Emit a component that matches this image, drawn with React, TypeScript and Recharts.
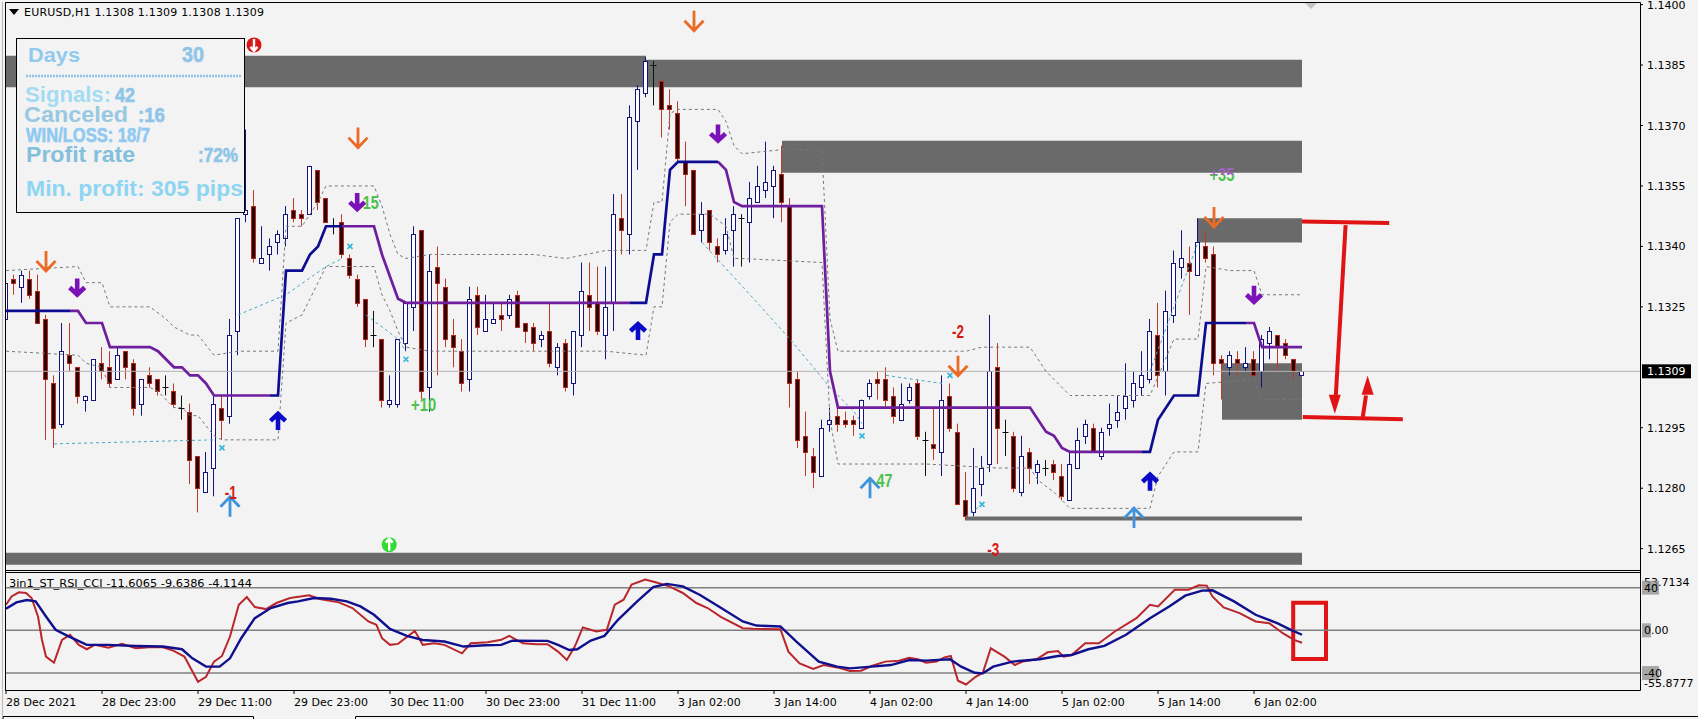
import {
  ComposedChart,
  Bar,
  Line,
  XAxis,
  YAxis,
  ReferenceArea,
  ReferenceDot,
  ReferenceLine,
} from 'recharts'

const FONT = '"DejaVu Sans", sans-serif'
const BG = '#f3f3f3'

// open, high, low, close per H1 bar
const candles = [
  [1.1322, 1.1332, 1.1321, 1.1331], [1.1332, 1.1333, 1.1328, 1.1331], [1.133, 1.1334, 1.1326, 1.1333], [1.1332, 1.1334, 1.1327, 1.1328],
  [1.1329, 1.1333, 1.1321, 1.1321], [1.1322, 1.1323, 1.1292, 1.1307], [1.1306, 1.1308, 1.129, 1.1295], [1.1296, 1.1321, 1.1295, 1.1314],
  [1.1313, 1.1321, 1.1309, 1.1311], [1.131, 1.131, 1.1301, 1.1303], [1.1302, 1.1303, 1.1299, 1.1303], [1.1302, 1.1312, 1.1302, 1.1312],
  [1.1311, 1.1315, 1.1307, 1.1309], [1.131, 1.1314, 1.1305, 1.1306], [1.1307, 1.1315, 1.1307, 1.1313], [1.1314, 1.1314, 1.1307, 1.131],
  [1.1311, 1.1312, 1.1298, 1.13], [1.1301, 1.1307, 1.1298, 1.1307], [1.1308, 1.131, 1.1305, 1.1306], [1.1307, 1.1307, 1.1303, 1.1304],
  [1.1305, 1.1308, 1.1303, 1.1305], [1.1304, 1.1306, 1.13, 1.1301], [1.13, 1.1303, 1.1297, 1.13], [1.1299, 1.1301, 1.1281, 1.1287],
  [1.1288, 1.1288, 1.1274, 1.128], [1.1279, 1.1289, 1.1279, 1.1284], [1.1285, 1.1303, 1.1278, 1.1301], [1.13, 1.1303, 1.1292, 1.1297],
  [1.1298, 1.1322, 1.1296, 1.1318], [1.1319, 1.1347, 1.1313, 1.1347], [1.1348, 1.1369, 1.1346, 1.1349], [1.135, 1.1354, 1.1336, 1.1337],
  [1.1336, 1.1345, 1.1336, 1.1337], [1.1338, 1.1342, 1.1334, 1.134], [1.1341, 1.1344, 1.1338, 1.1343], [1.1342, 1.135, 1.134, 1.1348],
  [1.1349, 1.1352, 1.1346, 1.1347], [1.1348, 1.1349, 1.1345, 1.1347], [1.1348, 1.136, 1.1348, 1.136], [1.1359, 1.1359, 1.1349, 1.1351],
  [1.1352, 1.1352, 1.1346, 1.1346], [1.1345, 1.1347, 1.1343, 1.1345], [1.1346, 1.1348, 1.1337, 1.1338], [1.1337, 1.1338, 1.1332, 1.1333],
  [1.1332, 1.1333, 1.1325, 1.1326], [1.1327, 1.1327, 1.1315, 1.1317], [1.1318, 1.1324, 1.1315, 1.1318], [1.1317, 1.1317, 1.13, 1.1302],
  [1.1301, 1.1308, 1.13, 1.1302], [1.1301, 1.1317, 1.13, 1.1317], [1.1316, 1.1326, 1.1314, 1.1326], [1.1325, 1.1345, 1.1319, 1.1343],
  [1.1344, 1.1344, 1.1302, 1.1304], [1.1305, 1.1338, 1.1299, 1.1334], [1.1335, 1.134, 1.1308, 1.1331], [1.133, 1.1332, 1.1315, 1.1317],
  [1.1318, 1.1322, 1.131, 1.1315], [1.1314, 1.1317, 1.1304, 1.1306], [1.1307, 1.133, 1.1304, 1.1327], [1.1328, 1.133, 1.1318, 1.132],
  [1.1319, 1.1328, 1.1319, 1.1322], [1.1321, 1.1326, 1.1321, 1.1322], [1.1323, 1.1326, 1.1319, 1.1322], [1.1323, 1.1328, 1.1322, 1.1327],
  [1.1328, 1.1329, 1.132, 1.132], [1.1321, 1.1321, 1.1316, 1.1319], [1.132, 1.1321, 1.1314, 1.1316], [1.1317, 1.1319, 1.1315, 1.1318],
  [1.1319, 1.1326, 1.131, 1.1311], [1.131, 1.1316, 1.1308, 1.1315], [1.1316, 1.1317, 1.1304, 1.1305], [1.1306, 1.1319, 1.1303, 1.1319],
  [1.1318, 1.1336, 1.1315, 1.1329], [1.1328, 1.1336, 1.1319, 1.1325], [1.1326, 1.1335, 1.1318, 1.1319], [1.1318, 1.1335, 1.1312, 1.1325],
  [1.1326, 1.1353, 1.1319, 1.1348], [1.1347, 1.1353, 1.1338, 1.1344], [1.1343, 1.1375, 1.1338, 1.1372], [1.1371, 1.138, 1.1359, 1.1379],
  [1.1378, 1.1387, 1.1377, 1.1386], [1.1385, 1.1386, 1.1375, 1.1385], [1.1381, 1.1381, 1.1367, 1.1374], [1.1375, 1.1379, 1.1369, 1.1374],
  [1.1373, 1.1376, 1.1361, 1.1362], [1.1361, 1.1366, 1.135, 1.1358], [1.1359, 1.1359, 1.1343, 1.1343], [1.1344, 1.1351, 1.1341, 1.1348],
  [1.1349, 1.1349, 1.1339, 1.1341], [1.134, 1.1342, 1.1336, 1.1338], [1.1339, 1.1347, 1.1338, 1.1343], [1.1344, 1.135, 1.1335, 1.1348],
  [1.1347, 1.1348, 1.1335, 1.1347], [1.1346, 1.1356, 1.1336, 1.1352], [1.1351, 1.136, 1.1351, 1.1355], [1.1354, 1.1366, 1.1352, 1.1356],
  [1.1355, 1.136, 1.1347, 1.1359], [1.1358, 1.1365, 1.1346, 1.1351], [1.135, 1.1352, 1.13, 1.1306], [1.1307, 1.1309, 1.129, 1.1292],
  [1.1293, 1.1299, 1.1283, 1.1289], [1.1288, 1.129, 1.128, 1.1284], [1.1283, 1.1297, 1.1283, 1.1295], [1.1296, 1.13, 1.1294, 1.1297],
  [1.1298, 1.13, 1.1294, 1.1296], [1.1297, 1.1299, 1.1295, 1.1296], [1.1297, 1.1298, 1.1293, 1.1296], [1.1295, 1.1302, 1.1295, 1.1302],
  [1.1303, 1.1307, 1.1302, 1.1306], [1.1307, 1.1309, 1.1302, 1.1306], [1.1307, 1.131, 1.13, 1.1302], [1.1303, 1.1305, 1.1296, 1.1298],
  [1.1297, 1.1306, 1.1297, 1.1301], [1.1302, 1.1306, 1.1301, 1.1305], [1.1306, 1.1307, 1.1292, 1.1293], [1.1292, 1.1294, 1.1283, 1.1292],
  [1.1291, 1.13, 1.1287, 1.129], [1.1289, 1.1308, 1.1283, 1.1302], [1.1303, 1.1306, 1.1294, 1.1295], [1.1294, 1.1296, 1.1276, 1.1276],
  [1.1277, 1.1284, 1.1272, 1.1273], [1.1274, 1.129, 1.1273, 1.128], [1.1281, 1.1288, 1.1278, 1.1285], [1.1286, 1.1323, 1.1284, 1.1309],
  [1.131, 1.1316, 1.1286, 1.1295], [1.1294, 1.1297, 1.1288, 1.1294], [1.1293, 1.1294, 1.1279, 1.128], [1.1279, 1.1293, 1.1278, 1.1288],
  [1.1289, 1.129, 1.1281, 1.1285], [1.1284, 1.1287, 1.1281, 1.1286], [1.1285, 1.1287, 1.1283, 1.1285], [1.1286, 1.1287, 1.1282, 1.1284],
  [1.1283, 1.1286, 1.1277, 1.1278], [1.1277, 1.1289, 1.1277, 1.1286], [1.1285, 1.1295, 1.1285, 1.1292], [1.1293, 1.1297, 1.1291, 1.1296],
  [1.1295, 1.1296, 1.1289, 1.1289], [1.1288, 1.1295, 1.1287, 1.1294], [1.1295, 1.1301, 1.1293, 1.1296], [1.1297, 1.1303, 1.1295, 1.1299],
  [1.13, 1.1311, 1.1297, 1.1303], [1.1302, 1.1309, 1.13, 1.1306], [1.1305, 1.1314, 1.1303, 1.1308], [1.1307, 1.1322, 1.1306, 1.1319],
  [1.1318, 1.1326, 1.1305, 1.1308], [1.1309, 1.1329, 1.1303, 1.1324], [1.1323, 1.1339, 1.1321, 1.1336], [1.1335, 1.1344, 1.1332, 1.1337],
  [1.1336, 1.134, 1.1323, 1.1334], [1.1333, 1.1347, 1.1333, 1.1341], [1.134, 1.1344, 1.1336, 1.1337], [1.1338, 1.134, 1.1308, 1.1311],
  [1.1312, 1.1313, 1.1302, 1.1311], [1.131, 1.1314, 1.1308, 1.1313], [1.1312, 1.1314, 1.1308, 1.1311], [1.131, 1.1315, 1.1309, 1.1311],
  [1.1312, 1.1314, 1.1308, 1.1308], [1.1309, 1.1318, 1.1305, 1.1317], [1.1316, 1.132, 1.1312, 1.1319], [1.1318, 1.1318, 1.1309, 1.1315],
  [1.1316, 1.1317, 1.1312, 1.1313], [1.1312, 1.1312, 1.1307, 1.1309], [1.1308, 1.1309, 1.1308, 1.1309],
]

const priceTicks = [1.14, 1.1385, 1.137, 1.1355, 1.134, 1.1325, 1.1309, 1.1295, 1.128, 1.1265]
const lastPrice = 1.1309
const barTicks = [0, 12, 24, 36, 48, 60, 72, 84, 96, 108, 120, 132, 144, 156]
const barTickLabels = [
  '28 Dec 2021', '28 Dec 23:00', '29 Dec 11:00', '29 Dec 23:00', '30 Dec 11:00', '30 Dec 23:00', '31 Dec 11:00',
  '3 Jan 02:00', '3 Jan 14:00', '4 Jan 02:00', '4 Jan 14:00', '5 Jan 02:00', '5 Jan 14:00', '6 Jan 02:00',
]

// supply / demand boxes: bar from, bar to, price low, price high
const zones = [
  [0, 80, 1.13795, 1.13873],
  [80, 162, 1.13795, 1.13863],
  [97, 162, 1.13583, 1.13662],
  [149, 162, 1.1341, 1.1347],
  [152, 162, 1.1297, 1.1311],
  [120, 162, 1.1272, 1.1273],
  [0, 162, 1.1261, 1.1264],
]

const trendBlue = [
  [[0, 1.1324], [8, 1.1324]],
  [[33, 1.1303], [34, 1.1303], [35, 1.1334], [37, 1.1334], [38, 1.1338], [39, 1.134], [40, 1.1345], [42, 1.1345]],
  [[78, 1.1326], [80, 1.1326], [81, 1.1338], [82, 1.1338], [83, 1.1359], [84, 1.1361], [89, 1.1361]],
  [[142, 1.1289], [143, 1.1289], [144, 1.1297], [146, 1.1303], [149, 1.1303], [150, 1.1321], [155, 1.1321]],
]
const trendPurple = [
  [[8, 1.1324], [9, 1.1324], [10, 1.1321], [12, 1.1321], [13, 1.1315], [18, 1.1315], [19, 1.1314], [21, 1.131], [22, 1.131], [23, 1.1308], [24, 1.1308], [25, 1.1306], [26, 1.1303], [33, 1.1303]],
  [[42, 1.1345], [46, 1.1345], [47, 1.1338], [49, 1.1327], [50, 1.1326], [78, 1.1326]],
  [[89, 1.1361], [90, 1.1359], [91, 1.1351], [92, 1.135], [102, 1.135], [103, 1.1309], [104, 1.13], [128, 1.13], [130, 1.1294], [131, 1.1293], [132, 1.129], [133, 1.1289], [142, 1.1289]],
  [[155, 1.1321], [156, 1.1321], [157, 1.1315], [162, 1.1315]],
]
const channelUpper = [
  [0, 1.1334], [9, 1.1335], [10, 1.1331], [12, 1.1331], [13, 1.1325], [18, 1.1325], [20, 1.1322], [21, 1.132], [23, 1.1318], [24, 1.1318], [26, 1.1313], [29, 1.1314], [34, 1.1314],
  [35, 1.1345], [37, 1.1345], [38, 1.1348], [39, 1.1351], [40, 1.1355], [46, 1.1355], [47, 1.135], [48, 1.1343], [49, 1.1338], [50, 1.1337], [53, 1.1338], [66, 1.1338], [70, 1.1337], [75, 1.1339], [80, 1.1339],
  [81, 1.1351], [82, 1.1351], [83, 1.1373], [84, 1.1374], [89, 1.1374], [90, 1.1371], [91, 1.1365], [92, 1.1363], [97, 1.1364], [102, 1.1364], [103, 1.1322], [104, 1.1314], [120, 1.1314], [122, 1.1315], [128, 1.1315],
  [130, 1.1309], [133, 1.1303], [143, 1.1303], [146, 1.1317], [149, 1.1317], [150, 1.1335], [153, 1.1334], [156, 1.1334], [157, 1.1328], [162, 1.1328],
]
const channelLower = [
  [0, 1.1314], [9, 1.1313], [10, 1.1311], [12, 1.131], [13, 1.1305], [18, 1.1305], [19, 1.1304], [21, 1.13], [22, 1.13], [23, 1.1298], [24, 1.1298], [26, 1.1293], [27, 1.1292], [34, 1.1292],
  [35, 1.1321], [37, 1.1323], [38, 1.1327], [39, 1.1331], [40, 1.1335], [46, 1.1335], [47, 1.1328], [48, 1.1324], [49, 1.1319], [50, 1.1315], [53, 1.1314], [75, 1.1314], [80, 1.1313],
  [81, 1.1325], [82, 1.1325], [83, 1.1346], [84, 1.1348], [88, 1.1348], [90, 1.1345], [91, 1.1337], [92, 1.1337], [102, 1.1336], [103, 1.1297], [104, 1.1286], [115, 1.1286], [124, 1.1285], [128, 1.1285],
  [129, 1.1282], [131, 1.1279], [133, 1.1275], [143, 1.1275], [144, 1.1283], [146, 1.1289], [149, 1.1289], [150, 1.1306], [156, 1.1307], [157, 1.1302], [162, 1.1302],
]
const cyanTraces = [
  [[6, 1.1291], [26, 1.1292]],
  [[29, 1.1323], [35, 1.1328], [40, 1.1335], [42, 1.1337]],
  [[45, 1.1323], [49, 1.1317], [50, 1.1314]],
  [[87, 1.1341], [93, 1.1328], [98, 1.1317], [103, 1.1305], [106, 1.1299], [107, 1.1296]],
  [[110, 1.1308], [117, 1.1306]],
  [[120, 1.1273], [122, 1.1276]],
  [[143, 1.1309], [149, 1.1341]],
]
const cyanCrosses = [[27, 1.129], [43, 1.134], [50, 1.1312], [107, 1.1293], [118, 1.1308], [122, 1.1276]]

const orangeArrows = [[5, 1.13364], [44, 1.1367], [86, 1.1396], [119, 1.13104], [151, 1.13473]]
const purpleArrows = [[8.9, 1.13298], [43.9, 1.1351], [89, 1.1368], [156, 1.1328]]
const blueArrows = [[34, 1.12967], [79, 1.1319], [143, 1.12816]]
const skyArrows = [[28, 1.12754], [108, 1.128], [141, 1.12726]]
const resultLabels: [number, number, string, string][] = [
  [28.1, 1.1279, '-1', '#d81818'],
  [52.2, 1.1301, '+10', '#4cc24c'],
  [45.6, 1.1351, '15', '#4cc24c'],
  [109.8, 1.1282, '47', '#4cc24c'],
  [119, 1.1319, '-2', '#d81818'],
  [123.4, 1.1265, '-3', '#d81818'],
  [152, 1.1358, '+35', 'url(#plus35)'],
]

// hand drawn marks on the right of the price pane
const redLevels = [
  [[162, 1.13462], [172.9, 1.13458]],
  [[162.1, 1.12977], [174.6, 1.12971]],
  [[167.45, 1.13453], [166.2, 1.1302]],
  [[169.6, 1.12977], [170, 1.1303]],
]
const redHeads = [[166.1, 1.12985, 'down'], [170.2, 1.13079, 'up']]

const fastLine = [
  [0, 24], [0.7, 31.8], [1.6, 35.6], [2.5, 35], [3.2, 30.3], [4, 13], [4.5, -9], [5, -24.6], [6, -30.3], [7, -9], [8, -4.2], [9.1, -13.6], [10.1, -17.7], [11.1, -13.6], [12.8, -16.2], [14.5, -12.7], [16.2, -16.8], [17.9, -15.8], [19.6, -15.8], [20.9, -19], [22.3, -24.6], [24, -48.2], [25, -43.5], [26, -29.3], [27, -24], [28, -5.8], [29.1, 24], [30.1, 31.2], [31.1, 21.8], [32.5, 19.9], [33.8, 25.6], [35.5, 30.3], [37.9, 32.8], [39.2, 29.3], [41.6, 26.2], [43.3, 20.9], [45.3, 8.3], [46.3, 5.2], [47, -7.4], [48, -13.6], [49, -12.7], [51.1, -0.5], [52.1, -13.6], [53.5, -12.1], [54.8, -13.6], [57, -21.5], [58.1, -12.1], [60.2, -11.1], [61.9, -8.9], [62.9, -5.2], [64.6, -12.1], [66.3, -13], [67.7, -13], [69, -19.9], [70.1, -27.8], [71.1, -15.2], [72.1, 2.7], [73.8, -1.1], [75.1, 0.5], [76.1, 24], [77.2, 28.7], [78.2, 42.8], [79.9, 47.5], [81.2, 45], [82.9, 41.2], [84.6, 35], [86.3, 25.6], [87.7, 20.9], [89.4, 12.4], [92.1, 2], [93.4, 1.4], [96.8, 1.1], [97.8, -19.9], [99.2, -30.9], [100.9, -36.2], [102.2, -32.5], [103.9, -34.7], [105.5, -38],
  [106.9, -37.8], [108.2, -33.4], [109.9, -29.3], [111.6, -28.4], [112.9, -25.6], [114, -27.1], [115, -30.3], [116.3, -29.3], [117.3, -25.3], [118.1, -24], [119, -47.2], [120, -50.7], [121.2, -43.5], [122.1, -39.7], [123.1, -16.8], [124.8, -24.6], [126.1, -32.5], [127.1, -29.3], [128.8, -27.1], [130.2, -20.6], [131.5, -19.3], [132.2, -24.6], [133.2, -23.1], [134.9, -12.1], [136.6, -12.1], [138.6, -1.1], [141.3, 11.4], [143, 24], [144, 22.4], [146.1, 38.1], [147.8, 38.1], [149.1, 42.2], [150.1, 41.9], [150.8, 31.8], [152.2, 21.5], [154.2, 16.2], [156.2, 8.3], [157.9, 6.7], [159.6, -2.7], [161, -9], [162, -11.6065],
]
const slowLine = [
  [0, 20.2], [1.3, 26.2], [2.6, 28.4], [3.7, 27.1], [5, 13], [6.2, 0.5], [7.7, -5.2], [10.1, -13.6], [12.8, -13.6], [16.2, -14.6], [19.6, -15.2], [22, -17.7], [23.3, -26.2], [25, -34], [26.7, -34], [28, -26.2], [29.4, -7.4], [31.1, 11.4], [33.1, 20.9], [35.2, 25.6], [36.5, 27.1], [38.5, 30.3], [40.6, 29.6], [42.6, 27.1], [44.3, 22.4], [46, 14.6], [48, 1.4], [50.1, -5.2], [52.1, -9], [54.8, -10.5], [57.2, -15.2], [59.9, -14], [61.9, -13.6], [63.3, -9.6], [67.7, -9.9], [69, -13.6], [70.4, -18.4], [71.4, -17.7], [73.1, -9.6], [74.8, -5.2], [76.5, 9.9], [78.9, 27.1], [80.9, 40.6], [82.6, 43.5], [84.6, 41.2], [86.7, 33.4], [89.4, 20.9], [92.1, 8.3], [93.8, 4.5], [96.8, 3.6], [98.8, -10.5], [101.6, -29.3], [103.9, -34], [105.5, -35.6],
  [108.2, -34], [110.6, -32.5], [112.9, -27.8], [115, -28.4], [118, -27.1], [119.4, -34], [121.1, -39.7], [122.1, -40.3], [123.4, -34], [125.8, -29.3], [129.2, -27.1], [131.5, -24], [133.2, -23.1], [135.3, -17.7], [137.3, -14.6], [140, -4.2], [143, 11.4], [145.4, 22.4], [147.4, 32.5], [149.5, 37.2], [150.8, 37.5], [153.5, 27.1], [156.2, 14.6], [158.9, 6.7], [160.6, 0.5], [162, -4.1144],
]
const oscLevels = [40, 0, -40]
const oscTicks = [53.7134, 40, 0, -40, -55.8777]
const oscBox = [160.9, 165, -26.8, 25.9]

const tableData = candles.map(([open, high, low, close], i) => ({ i, open, high, low, close }))
const pts = (rows: number[][]) => rows.map(([i, v]) => ({ i, v }))

const X_DOMAIN: [number, number] = [0, 204.25]
const PRICE_DOMAIN: [number, number] = [1.12602, 1.14004]
const OSC_DOMAIN: [number, number] = [-55.8777, 53.7134]

function Candle({ x, y, width, height, payload }: any) {
  const { open, high, low, close } = payload
  const cx = Math.floor(x + width / 2) + 0.5
  const k = height / (high - low)
  const yOpen = y + (high - open) * k
  const yClose = y + (high - close) * k
  const top = Math.round(Math.min(yOpen, yClose)) + 0.5
  const bottom = Math.round(Math.max(yOpen, yClose)) + 0.5
  if (open === close) {
    return (
      <g stroke="#111">
        <line x1={cx} x2={cx} y1={y} y2={y + height} />
        <line x1={cx - 3} x2={cx + 3} y1={top} y2={top} />
      </g>
    )
  }
  const bull = close > open
  return (
    <g>
      <line x1={cx} x2={cx} y1={y} y2={y + height} stroke={bull ? '#14147e' : '#bb3a2c'} />
      <rect
        x={cx - 2}
        y={top}
        width={4}
        height={bottom - top}
        fill={bull ? '#ffffff' : '#2a0606'}
        stroke={bull ? '#14147e' : '#b5281e'}
      />
    </g>
  )
}

function ThinArrow({ cx, cy, up, color }: any) {
  const s = up ? -1 : 1
  return (
    <path
      d={`M${cx} ${cy - 10 * s}V${cy + 10 * s}M${cx - 9.5} ${cy + 0 * s}L${cx} ${cy + 10 * s}L${cx + 9.5} ${cy + 0 * s}`}
      fill="none"
      stroke={color}
      strokeWidth={2.8}
    />
  )
}

function ThickArrow({ cx, cy, up, color }: any) {
  const s = up ? -1 : 1
  return (
    <path
      d={`M${cx} ${cy - 9 * s}V${cy + 7 * s}M${cx - 7.5} ${cy + 0 * s}L${cx} ${cy + 7 * s}L${cx + 7.5} ${cy + 0 * s}`}
      fill="none"
      stroke={color}
      strokeWidth={4.6}
    />
  )
}

function CircleArrow({ cx, cy, up, color }: any) {
  const s = up ? -1 : 1
  return (
    <g>
      <circle cx={cx} cy={cy} r={7.5} fill={color} />
      <path
        d={`M${cx} ${cy - 6 * s}V${cy + 6 * s}M${cx - 3.5} ${cy + 2 * s}L${cx} ${cy + 6 * s}L${cx + 3.5} ${cy + 2 * s}`}
        fill="none"
        stroke="#fff"
        strokeWidth={2.4}
      />
    </g>
  )
}

function Cross({ cx, cy }: any) {
  return (
    <path
      d={`M${cx - 2.5} ${cy - 2.5}L${cx + 2.5} ${cy + 2.5}M${cx + 2.5} ${cy - 2.5}L${cx - 2.5} ${cy + 2.5}`}
      stroke="#35b5dc"
      strokeWidth={1.6}
    />
  )
}

function RedHead({ cx, cy, dir }: any) {
  const s = dir === 'down' ? -1 : 1
  return <path d={`M${cx} ${cy}L${cx - 6} ${cy + 19 * s}L${cx + 6} ${cy + 19 * s}Z`} fill="#e01414" />
}

function ResultLabel({ cx, cy, label, color }: any) {
  const digits = label.replace(/[^0-9]/g, '').length
  const w = digits * 8 + (label[0] === '+' ? 9 : label[0] === '-' ? 4 : 0)
  return (
    <text
      x={cx - w / 2}
      y={cy + 7}
      fontFamily="Liberation Sans, Arial, sans-serif"
      fontWeight={700}
      fontSize={19}
      textLength={w}
      lengthAdjust="spacingAndGlyphs"
      fill={color}
    >
      {label}
    </text>
  )
}

function PriceTick({ x, y, payload }: any) {
  const last = payload.value === lastPrice
  return (
    <g fontFamily={FONT} fontSize={11}>
      {last && <rect x={x + 2} y={y - 7} width={49} height={14} fill="#000" />}
      {!last && <line x1={x} x2={x + 3} y1={y} y2={y} stroke="#000" />}
      <text x={x + 7} y={y + 4} fill={last ? '#fff' : '#000'}>
        {payload.value.toFixed(4)}
      </text>
    </g>
  )
}

function BarTick({ x, y, payload }: any) {
  return (
    <g fontFamily={FONT} fontSize={11}>
      <line x1={x} x2={x} y1={y} y2={y + 4} stroke="#000" />
      <text x={x} y={y + 16} fill="#000" textAnchor="start">
        {barTickLabels[barTicks.indexOf(payload.value)]}
      </text>
    </g>
  )
}

function OscTick({ x, y, payload }: any) {
  const v = payload.value
  const boxed = oscLevels.includes(v)
  const txt = boxed ? (v === 0 ? '0.00' : String(v)) : v.toFixed(4)
  const dy = v > 50 ? 9 : v < -50 ? -7 : 0
  return (
    <g fontFamily={FONT} fontSize={11}>
      {boxed && <rect x={x + 2} y={y - 7} width={v === 0 ? 9 : 17} height={14} fill="#8e8e8e" fillOpacity={0.75} />}
      <text x={x + 4} y={y + dy + 4} fill="#000">
        {txt}
      </text>
    </g>
  )
}

function Overlay() {
  const sans = 'Liberation Sans, Arial, sans-serif'
  return (
    <svg width={1698} height={719} style={{ position: 'absolute', left: 0, top: 0 }}>
      {/* terminal frame */}
      <rect x={0} y={0} width={5} height={719} fill={BG} />
      <line x1={2.5} x2={2.5} y1={2} y2={716} stroke="#b8b8b8" />
      <path d="M5.5 2.5H1640.5V690.5H5.5Z" fill="none" stroke="#000" />
      <path d="M5.5 570.5H1640.5M5.5 572.5H1640.5" stroke="#000" fill="none" />
      <path d="M3 719V716.5H253.5V719M355.5 719V716.5H1698" stroke="#000" fill="none" />
      <path d="M1305 3H1317L1311 9Z" fill="#c4c4c4" />

      <path d="M9 9H19L14 15Z" fill="#000" />
      <text x={24} y={16} fontFamily={FONT} fontSize={11} textLength={240} fill="#000">
        EURUSD,H1  1.1308 1.1309 1.1308 1.1309
      </text>
      <text x={9} y={587} fontFamily={FONT} fontSize={10.5} textLength={243} lengthAdjust="spacingAndGlyphs" fill="#000">
        3in1_ST_RSI_CCI -11.6065 -9.6386 -4.1144
      </text>

      {/* stats panel */}
      <rect x={16.5} y={38.5} width={228} height={174} fill={BG} stroke="#000" />
      <g fontFamily={sans} fontWeight={700}>
        <text x={28} y={62} fontSize={21} textLength={52} lengthAdjust="spacingAndGlyphs" fill="#92c9ee">Days</text>
        <text x={182} y={62} fontSize={22} textLength={22} lengthAdjust="spacingAndGlyphs" fill="#8fc5e8" stroke="#8fc5e8" strokeWidth={0.6}>30</text>
        <line x1={26} x2={242} y1={76} y2={76} stroke="#8cc4e8" strokeWidth={2.5} strokeDasharray="2 1" />
        <text x={25} y={102} fontSize={22} textLength={86} lengthAdjust="spacingAndGlyphs" fill="#a3dcf2">Signals:</text>
        <text x={115} y={102} fontSize={21} textLength={20} lengthAdjust="spacingAndGlyphs" fill="#8fc5e8" stroke="#8fc5e8" strokeWidth={0.6}>42</text>
        <text x={24} y={122} fontSize={22} textLength={104} lengthAdjust="spacingAndGlyphs" fill="#98c8e2">Canceled</text>
        <text x={138} y={122} fontSize={21} textLength={27} lengthAdjust="spacingAndGlyphs" fill="#8fc5e8" stroke="#8fc5e8" strokeWidth={0.6}>:16</text>
        <text x={26} y={142} fontSize={21} textLength={124} lengthAdjust="spacingAndGlyphs" fill="#8fc9f2" stroke="#8fc9f2" strokeWidth={0.6}>WIN/LOSS: 18/7</text>
        <text x={26} y={162} fontSize={22} textLength={109} lengthAdjust="spacingAndGlyphs" fill="#83c0dc">Profit rate</text>
        <text x={198} y={162} fontSize={21} textLength={40} lengthAdjust="spacingAndGlyphs" fill="#8fc5e8" stroke="#8fc5e8" strokeWidth={0.6}>:72%</text>
        <text x={26} y={196} fontSize={22} textLength={217} lengthAdjust="spacingAndGlyphs" fill="#8ed5f2">Min. profit: 305 pips</text>
      </g>
    </svg>
  )
}

export default function App() {
  return (
    <div style={{ position: 'absolute', left: 0, top: 0, width: 1698, height: 719, background: BG, overflow: 'hidden' }}>
      <div style={{ position: 'absolute', left: 0, top: 0 }}>
        <ComposedChart width={1698} height={568} data={tableData} margin={{ top: 3, right: 0, bottom: 0, left: 6 }}>
          <defs>
            <linearGradient id="plus35" x1="0" y1="0" x2="0" y2="1">
              <stop offset="0.5" stopColor="#a45fc4" />
              <stop offset="0.55" stopColor="#4cc24c" />
            </linearGradient>
          </defs>
          <XAxis dataKey="i" type="number" domain={X_DOMAIN} hide allowDataOverflow />
          <YAxis
            orientation="right"
            width={58}
            domain={PRICE_DOMAIN}
            allowDataOverflow
            ticks={priceTicks}
            interval={0}
            tick={PriceTick}
            tickSize={0}
            tickMargin={0}
            axisLine={false}
            tickLine={false}
          />
          {zones.map(([x1, x2, y1, y2], k) => (
            <ReferenceArea key={k} x1={x1} x2={x2} y1={y1} y2={y2} fill="#6a6a6a" fillOpacity={1} stroke="none" />
          ))}
          <ReferenceLine y={lastPrice} stroke="#b4b4b4" />
          <Bar dataKey={(d: any) => [d.low, d.high]} barSize={5} shape={Candle} isAnimationActive={false} />
          {[channelUpper, channelLower].map((rows, k) => (
            <Line key={k} data={pts(rows)} dataKey="v" stroke="#777" strokeWidth={1} strokeDasharray="3 3" dot={false} activeDot={false} isAnimationActive={false} />
          ))}
          {cyanTraces.map((rows, k) => (
            <Line key={k} data={pts(rows)} dataKey="v" stroke="#4aa8c8" strokeWidth={1} strokeDasharray="3 3" dot={false} activeDot={false} isAnimationActive={false} />
          ))}
          {trendPurple.map((rows, k) => (
            <Line key={k} data={pts(rows)} dataKey="v" stroke="#6f1f9e" strokeWidth={2.7} dot={false} activeDot={false} isAnimationActive={false} />
          ))}
          {trendBlue.map((rows, k) => (
            <Line key={k} data={pts(rows)} dataKey="v" stroke="#0d0d92" strokeWidth={2.7} dot={false} activeDot={false} isAnimationActive={false} />
          ))}
          {redLevels.map((rows, k) => (
            <Line key={k} data={pts(rows)} dataKey="v" stroke="#e01414" strokeWidth={4} dot={false} activeDot={false} isAnimationActive={false} />
          ))}
          {redHeads.map(([i, v, dir], k) => (
            <ReferenceDot key={k} x={i as number} y={v as number} shape={(p: any) => <RedHead {...p} dir={dir} />} />
          ))}
          {orangeArrows.map(([i, v], k) => (
            <ReferenceDot key={k} x={i} y={v} shape={(p: any) => <ThinArrow {...p} color="#ea6a26" />} />
          ))}
          {skyArrows.map(([i, v], k) => (
            <ReferenceDot key={k} x={i} y={v} shape={(p: any) => <ThinArrow {...p} up color="#3f93dc" />} />
          ))}
          {purpleArrows.map(([i, v], k) => (
            <ReferenceDot key={k} x={i} y={v} shape={(p: any) => <ThickArrow {...p} color="#7a12b8" />} />
          ))}
          {blueArrows.map(([i, v], k) => (
            <ReferenceDot key={k} x={i} y={v} shape={(p: any) => <ThickArrow {...p} up color="#0a0ac8" />} />
          ))}
          <ReferenceDot x={31} y={1.139} shape={(p: any) => <CircleArrow {...p} color="#d81818" />} />
          <ReferenceDot x={47.9} y={1.1266} shape={(p: any) => <CircleArrow {...p} up color="#32dc32" />} />
          {cyanCrosses.map(([i, v], k) => (
            <ReferenceDot key={k} x={i} y={v} shape={Cross} />
          ))}
          {resultLabels.map(([i, v, label, color], k) => (
            <ReferenceDot key={k} x={i} y={v} shape={(p: any) => <ResultLabel {...p} label={label} color={color} />} />
          ))}
        </ComposedChart>
      </div>

      <div style={{ position: 'absolute', left: 0, top: 573 }}>
        <ComposedChart width={1698} height={146} margin={{ top: 0, right: 0, bottom: 0, left: 6 }}>
          <XAxis
            dataKey="i"
            type="number"
            domain={X_DOMAIN}
            allowDataOverflow
            ticks={barTicks}
            interval={0}
            height={29}
            tick={BarTick}
            tickSize={0}
            tickMargin={0}
            axisLine={false}
            tickLine={false}
          />
          <YAxis
            orientation="right"
            width={58}
            domain={OSC_DOMAIN}
            allowDataOverflow
            ticks={oscTicks}
            interval={0}
            tick={OscTick}
            tickSize={0}
            tickMargin={0}
            axisLine={false}
            tickLine={false}
          />
          {oscLevels.map((v) => (
            <ReferenceLine key={v} y={v} stroke="#808080" strokeWidth={1.5} />
          ))}
          <Line data={pts(fastLine)} dataKey="v" stroke="#b9262c" strokeWidth={2} dot={false} activeDot={false} isAnimationActive={false} />
          <Line data={pts(slowLine)} dataKey="v" stroke="#10108e" strokeWidth={2.4} dot={false} activeDot={false} isAnimationActive={false} />
          <ReferenceArea x1={oscBox[0]} x2={oscBox[1]} y1={oscBox[2]} y2={oscBox[3]} fill="none" stroke="#e01414" strokeWidth={4} />
        </ComposedChart>
      </div>

      <Overlay />
    </div>
  )
}
